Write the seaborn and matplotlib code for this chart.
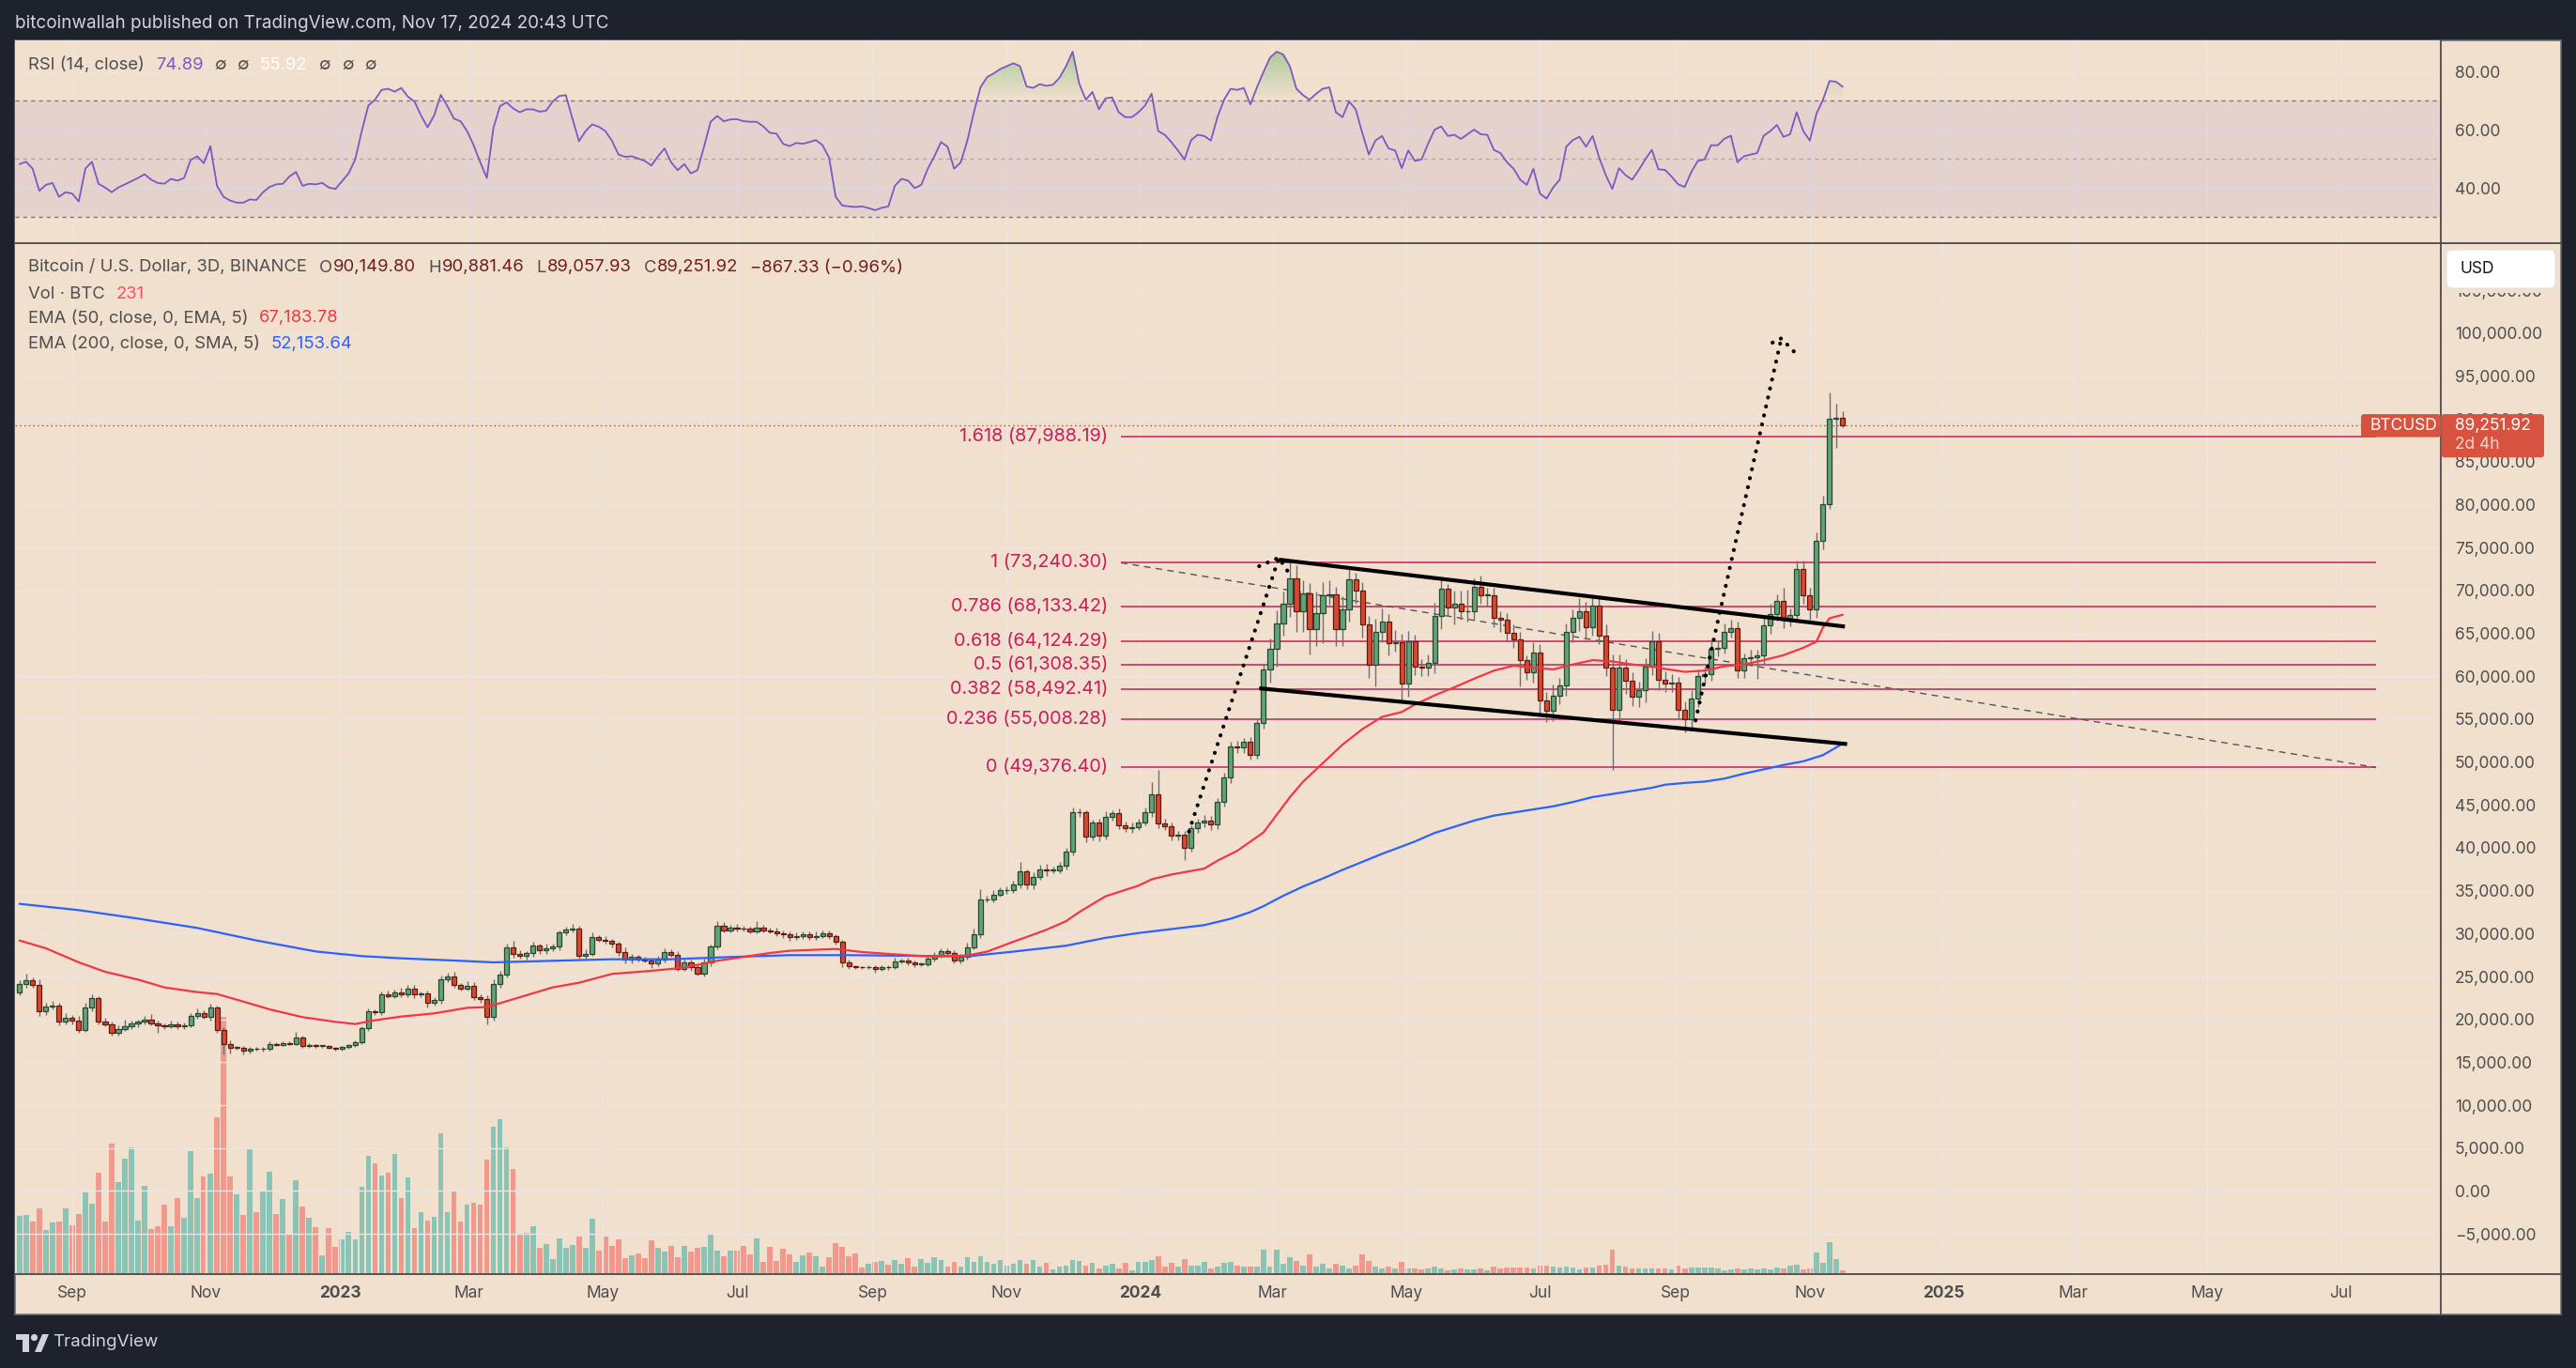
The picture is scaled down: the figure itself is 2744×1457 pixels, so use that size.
import numpy as np
import pandas as pd
import matplotlib
matplotlib.use("Agg")
import matplotlib.pyplot as plt
import matplotlib.dates as mdates
from matplotlib.patches import Rectangle, FancyBboxPatch, Polygon, Circle
from matplotlib.path import Path
from matplotlib.lines import Line2D
from matplotlib.transforms import IdentityTransform
import seaborn as sns

# ---------------------------------------------------------------- data
first_candle = "2022-08-08"
candle_step = "3D"
first_open_k = 23.18

close_k = [
    24.09, 24.53, 24.02, 20.92, 21.46, 21.65, 19.71, 20.15, 19.90, 18.80,
    21.35, 22.45, 19.78, 19.46, 18.47, 18.91, 19.16, 19.53, 19.71, 20.00,
    19.53, 19.27, 19.16, 19.42, 19.16, 19.35, 20.37, 20.73, 20.26, 21.35,
    18.73, 17.16, 16.68, 16.72, 16.32, 16.61, 16.54, 16.61, 17.16, 17.05,
    17.27, 17.16, 17.89, 16.90, 16.98, 16.90, 16.95, 16.72, 16.54, 16.79,
    16.98, 17.34, 18.98, 20.92, 20.81, 22.92, 22.74, 23.18, 22.92, 23.54,
    22.92, 23.00, 21.90, 22.27, 24.64, 25.00, 23.98, 23.62, 23.91, 22.63,
    22.38, 20.26, 24.09, 25.19, 28.36, 27.63, 27.38, 27.70, 28.58, 28.03,
    28.29, 28.47, 30.11, 30.48, 30.59, 27.38, 27.67, 29.56, 29.31, 29.13,
    28.83, 27.85, 26.94, 27.27, 27.01, 26.90, 26.54, 26.94, 27.85, 27.56,
    25.91, 26.65, 26.10, 25.37, 26.65, 28.47, 30.91, 30.40, 30.66, 30.59,
    30.55, 30.29, 30.73, 30.40, 30.29, 30.04, 29.90, 29.56, 29.75, 29.93,
    29.56, 29.75, 30.04, 29.68, 29.02, 26.65, 26.17, 26.10, 26.06, 26.13,
    25.91, 26.08, 26.06, 26.75, 26.84, 26.66, 26.43, 26.45, 27.07, 27.44,
    28.00, 27.76, 26.84, 27.30, 28.45, 29.97, 33.93, 33.98, 34.58, 35.04,
    35.10, 35.69, 37.21, 35.69, 36.65, 37.53, 37.35, 37.40, 37.90, 39.51,
    44.12, 44.20, 41.26, 43.01, 41.40, 43.66, 44.03, 42.60, 42.28, 42.46,
    43.01, 44.12, 46.19, 42.87, 42.55, 41.40, 41.50, 40.02, 42.28, 43.01,
    43.20, 42.73, 45.32, 48.17, 51.86, 51.67, 52.32, 50.85, 54.53, 60.75,
    63.18, 66.20, 68.43, 71.45, 67.63, 69.65, 65.55, 67.35, 69.50, 69.60,
    65.55, 67.85, 71.30, 69.94, 66.05, 61.31, 65.19, 66.41, 63.89, 63.95,
    59.15, 64.04, 61.16, 61.02, 61.52, 67.06, 70.22, 68.07, 68.50, 67.56,
    67.60, 70.44, 69.43, 69.50, 66.77, 66.63, 65.05, 64.33, 61.88, 60.44,
    62.82, 57.14, 55.99, 57.78, 58.93, 65.19, 66.77, 67.63, 65.76, 68.21,
    64.76, 61.02, 56.13, 61.02, 59.44, 57.57, 58.43, 61.16, 64.04, 59.58,
    59.15, 59.22, 56.13, 54.98, 57.42, 60.01, 60.30, 63.18, 63.32, 65.19,
    65.62, 60.66, 62.10, 62.24, 62.46, 65.98, 67.27, 68.79, 66.63, 67.13,
    72.52, 69.50, 67.85, 75.76, 80.08, 90.07, 90.1498, 89.25192,
]

upper_wick_k = [
    0.5, 0.8, 0.4, 0.6, 0.5, 0.5, 0.3, 0.6, 0.4, 0.5,
    0.6, 0.5, 0.3, 0.4, 0.3, 0.4, 0.8, 0.3, 0.3, 0.4,
    0.6, 0.3, 0.3, 0.4, 0.3, 0.3, 0.4, 0.5, 0.3, 0.5,
    0.3, 0.4, 0.4, 0.2, 0.2, 0.2, 0.2, 0.2, 0.3, 0.2,
    0.2, 0.2, 0.6, 0.2, 0.2, 0.1, 0.1, 0.1, 0.1, 0.1,
    0.1, 0.2, 0.2, 0.4, 0.3, 0.3, 0.4, 0.3, 0.5, 0.5,
    0.5, 0.3, 0.4, 0.3, 0.5, 0.4, 0.5, 0.3, 0.6, 0.4,
    0.3, 0.4, 0.6, 0.5, 0.5, 0.8, 0.4, 0.3, 0.5, 0.3,
    0.5, 0.4, 0.3, 0.3, 0.5, 0.3, 0.5, 0.6, 0.3, 0.4,
    0.2, 0.2, 0.5, 0.4, 0.3, 0.3, 0.2, 0.5, 0.4, 0.3,
    0.4, 0.3, 0.3, 0.2, 0.4, 0.3, 0.6, 0.4, 0.4, 0.5,
    0.3, 0.3, 0.7, 0.3, 0.3, 0.4, 0.3, 0.4, 0.4, 0.3,
    0.3, 0.5, 0.3, 0.3, 0.3, 0.3, 0.3, 0.2, 0.1, 0.2,
    0.2, 0.2, 0.2, 0.4, 0.2, 0.3, 0.2, 0.2, 0.3, 0.4,
    0.3, 0.3, 0.3, 0.3, 0.5, 0.6, 1.2, 0.4, 0.5, 0.4,
    0.4, 0.5, 1.2, 0.3, 0.5, 0.5, 0.6, 0.4, 0.5, 0.5,
    0.6, 0.4, 0.2, 0.3, 0.4, 0.6, 0.4, 0.6, 0.5, 0.5,
    0.4, 0.6, 1.5, 2.9, 0.5, 0.4, 0.5, 0.5, 0.4, 0.4,
    0.6, 0.5, 0.5, 0.6, 0.5, 0.6, 0.5, 0.6, 0.6, 0.7,
    1.2, 1.5, 1.5, 2.0, 1.5, 1.6, 1.2, 2.5, 1.5, 1.6,
    0.8, 1.5, 1.2, 0.8, 1.0, 1.0, 1.5, 1.5, 0.8, 1.5,
    1.0, 1.2, 0.8, 0.8, 1.0, 1.5, 1.2, 0.5, 1.5, 1.5,
    2.5, 1.0, 1.3, 0.8, 0.8, 0.8, 0.7, 1.0, 0.8, 0.6,
    1.2, 0.9, 1.0, 1.3, 0.9, 1.0, 1.0, 1.5, 1.0, 1.3,
    1.0, 1.3, 1.5, 1.5, 1.0, 1.0, 1.0, 1.0, 1.2, 1.0,
    1.0, 1.0, 0.7, 1.0, 1.0, 0.8, 0.8, 1.0, 0.9, 1.0,
    1.0, 0.8, 0.6, 0.9, 0.6, 0.8, 1.2, 0.8, 1.5, 0.8,
    1.0, 1.0, 0.8, 1.0, 1.0, 3.0, 1.63, 0.731,
]

lower_wick_k = [
    0.4, 0.4, 0.3, 0.5, 0.4, 0.3, 0.4, 0.3, 0.5, 0.4,
    0.3, 0.4, 0.4, 0.3, 0.4, 0.4, 0.3, 0.3, 0.4, 0.3,
    0.2, 0.8, 0.3, 0.2, 0.3, 0.3, 0.3, 0.3, 0.2, 0.4,
    0.3, 1.2, 0.6, 0.2, 0.4, 0.3, 0.2, 0.3, 0.3, 0.2,
    0.2, 0.2, 0.2, 0.2, 0.2, 0.2, 0.2, 0.2, 0.2, 0.2,
    0.2, 0.2, 0.2, 0.3, 0.3, 0.3, 0.3, 0.3, 0.3, 0.3,
    0.4, 0.3, 0.5, 0.3, 0.4, 0.3, 0.3, 0.3, 0.3, 0.4,
    0.4, 0.8, 0.4, 0.4, 0.3, 0.4, 0.3, 0.4, 0.4, 0.4,
    0.4, 0.3, 0.4, 0.3, 0.3, 0.3, 0.3, 0.3, 0.3, 0.3,
    0.4, 0.4, 0.4, 0.4, 0.3, 0.3, 0.5, 0.3, 0.3, 0.3,
    0.3, 0.3, 0.4, 0.3, 0.4, 0.4, 0.3, 0.3, 0.3, 0.3,
    0.3, 0.3, 0.3, 0.3, 0.3, 0.3, 0.4, 0.4, 0.3, 0.4,
    0.3, 0.3, 0.3, 0.3, 0.3, 0.6, 0.3, 0.2, 0.2, 0.2,
    0.5, 0.2, 0.3, 0.2, 0.2, 0.3, 0.3, 0.2, 0.2, 0.3,
    0.3, 0.2, 0.3, 0.3, 0.3, 0.3, 0.5, 0.3, 0.3, 0.3,
    0.4, 0.4, 0.4, 0.5, 0.5, 0.4, 0.6, 0.3, 0.4, 0.4,
    0.4, 0.5, 0.6, 0.4, 0.6, 0.4, 0.5, 0.4, 0.4, 0.5,
    0.4, 0.4, 0.5, 0.6, 0.5, 0.5, 0.5, 1.4, 0.5, 0.5,
    0.6, 0.6, 0.5, 0.5, 0.6, 0.6, 0.6, 0.6, 0.4, 0.6,
    1.5, 2.0, 1.5, 1.5, 2.5, 2.5, 3.0, 2.0, 3.5, 1.2,
    2.0, 2.0, 1.5, 1.5, 1.5, 1.5, 2.5, 1.2, 1.5, 1.0,
    2.0, 1.5, 1.0, 1.0, 1.0, 1.2, 1.5, 1.0, 2.0, 1.0,
    1.2, 1.0, 1.0, 1.2, 1.0, 1.5, 1.0, 1.0, 3.0, 0.8,
    1.2, 1.5, 1.3, 1.2, 1.0, 1.2, 1.2, 1.5, 1.5, 1.0,
    1.0, 1.0, 7.0, 1.5, 1.5, 1.0, 1.2, 1.5, 1.0, 1.2,
    1.0, 1.0, 1.0, 1.5, 1.0, 1.0, 0.8, 0.8, 0.8, 0.7,
    0.7, 0.8, 0.8, 0.8, 2.5, 1.0, 1.0, 0.8, 1.0, 0.8,
    0.8, 1.0, 1.2, 1.0, 1.0, 0.6, 3.48, 0.194,
]

volume = [
    62, 63, 56, 70, 47, 55, 56, 70, 52, 64,
    87, 75, 108, 56, 139, 98, 123, 135, 57, 94,
    48, 51, 74, 51, 81, 60, 131, 81, 104, 107,
    167, 274, 104, 85, 63, 133, 66, 88, 109, 64,
    80, 42, 100, 72, 60, 50, 20, 49, 29, 37,
    45, 37, 93, 126, 118, 105, 108, 128, 81, 103,
    49, 66, 57, 61, 150, 66, 88, 56, 74, 76,
    74, 122, 157, 165, 135, 112, 43, 44, 51, 28,
    32, 16, 38, 28, 31, 40, 28, 59, 25, 40,
    30, 37, 17, 20, 22, 17, 36, 28, 24, 30,
    18, 30, 24, 28, 29, 43, 25, 19, 25, 25,
    30, 21, 38, 13, 29, 14, 27, 21, 13, 20,
    23, 19, 8, 18, 33, 29, 19, 22, 7, 11,
    13, 14, 10,
    15, 11, 17, 8, 16, 12, 18, 15, 8, 13,
    8, 18, 13, 19, 13, 11, 15, 9, 11, 15,
    11, 15, 8, 12, 5, 8, 9, 15, 14, 9,
    12, 6, 9, 11, 6, 12, 4, 13, 13, 15,
    19, 8, 12, 8, 16, 9, 9, 13, 6, 8,
    12, 13, 9, 8, 8, 8,
    26, 8, 26, 11, 18, 14, 9, 21, 8, 11,
    6, 11, 9, 6, 9, 21, 14, 8, 6, 8,
    6, 13, 6, 6, 5, 6, 8, 6, 4, 5,
    6, 5, 5, 6, 4, 8, 6, 7, 7, 7,
    7, 6, 9, 9, 8, 7, 8, 7, 5, 7,
    7, 9, 10, 26, 9, 8, 6, 6, 6, 6,
    6, 6, 5, 9, 6, 7, 7, 7, 7, 6,
    4, 5, 6, 5, 6, 5, 6, 5, 7, 6,
    9, 10, 5, 6, 23, 12, 34, 16, 4,
]

rsi_values = [
    48.2, 49.0, 46.6, 39.0, 41.0, 41.7, 36.9, 38.5, 38.0, 35.3,
    46.6, 49.0, 41.4, 40.1, 38.5, 40.1, 41.2, 42.3, 43.4, 44.7,
    42.8, 41.7, 41.4, 43.1, 42.5, 43.4, 49.6, 50.9, 48.5, 54.4,
    40.7, 36.9, 35.6, 34.9, 34.9, 36.0, 35.8, 38.5, 40.3, 41.2,
    41.4, 43.9, 45.5, 40.7, 41.4, 41.2, 41.7, 40.1, 39.6, 42.3,
    45.0, 49.8, 59.6, 68.4, 70.4, 73.8, 74.2, 73.2, 74.5, 71.5,
    69.8, 65.0, 60.9, 65.0, 72.1, 68.2, 63.9, 63.0, 59.6, 54.7,
    48.8, 43.4, 60.7, 68.2, 69.5, 67.4, 66.1, 67.1, 67.1, 66.3,
    66.6, 69.8, 71.7, 72.0, 63.9, 56.1, 59.6, 61.9, 61.1, 59.6,
    56.3, 51.5, 50.7, 50.9, 50.1, 49.3, 47.7, 50.9, 53.6, 48.8,
    46.1, 48.2, 45.0, 46.1, 54.2, 62.8, 64.8, 63.0, 63.6, 63.7,
    63.0, 62.8, 62.8, 61.2, 59.0, 58.7, 55.2, 54.4, 55.5, 55.2,
    55.8, 56.5, 54.7, 50.4, 36.9, 33.9, 33.6, 33.4, 33.6, 33.0,
    32.3, 33.1, 33.6, 40.7, 43.1, 42.5, 39.9, 41.0, 46.6, 50.9,
    55.8, 54.2, 46.6, 48.8, 56.3, 66.1, 74.7, 78.2, 79.5, 81.0,
    82.0, 83.0, 82.0, 75.0, 74.5, 75.8, 75.2, 75.6, 78.0, 82.0,
    87.0, 76.0, 70.4, 73.1, 67.1, 70.9, 71.2, 66.1, 64.4, 64.4,
    66.1, 68.4, 72.5, 59.6, 58.3, 55.8, 52.9, 49.8, 56.5, 58.3,
    57.9, 56.3, 64.4, 70.4, 74.2, 73.8, 74.5, 68.8, 74.7, 80.0,
    85.0, 87.0, 86.0, 82.0, 74.2, 72.0, 70.4, 72.5, 74.2, 74.7,
    66.1, 64.4, 69.8, 67.1, 59.0, 51.5, 56.3, 57.9, 53.6, 52.9,
    46.8, 52.9, 49.3, 49.8, 55.2, 60.1, 61.2, 57.9, 58.3, 56.9,
    58.5, 60.1, 58.5, 58.3, 53.1, 52.0, 48.8, 46.6, 42.8, 41.0,
    46.6, 38.0, 36.3, 40.1, 42.8, 54.2, 56.5, 57.6, 54.2, 57.9,
    50.4, 44.4, 39.6, 46.8, 44.4, 42.8, 46.1, 49.8, 53.1, 46.4,
    46.2, 43.9, 41.2, 40.3, 45.5, 49.3, 49.8, 54.7, 54.7, 56.9,
    58.0, 48.8, 50.9, 51.5, 52.0, 58.0, 59.6, 61.7, 57.6, 58.5,
    66.1, 59.6, 56.3, 65.5, 70.4, 76.9, 76.6, 74.89,
]

ema50_index = [0, 4, 9, 13, 18, 22, 27, 30, 34, 38, 43, 48, 51, 54, 58, 63, 68, 71, 77, 81,
               85, 90, 96, 101, 106, 114, 117, 124, 128, 135, 138, 144, 147, 151, 156, 159, 161, 165, 170, 172,
               175, 180, 182, 185, 189, 191, 193, 195, 198, 201, 204, 207, 210, 212, 215, 218, 221, 224, 227, 230,
               233, 236, 239, 242, 245, 248, 250, 253, 256, 259, 262, 265, 268, 271, 273, 274, 275, 277]
ema50_k = [29.20, 28.29, 26.65, 25.55, 24.64, 23.73, 23.18, 22.96, 22.08, 21.17, 20.26, 19.71, 19.46, 19.90, 20.33, 20.70, 21.35, 21.43, 22.81, 23.73,
           24.27, 25.30, 25.66, 26.03, 26.83, 27.74, 28.00, 28.21, 27.85, 27.48, 27.35, 27.44, 27.90, 29.05, 30.44, 31.45, 32.51, 34.35, 35.59, 36.33,
           36.89, 37.58, 38.50, 39.65, 41.80, 43.85, 45.90, 47.70, 49.87, 52.03, 53.83, 55.27, 55.84, 56.70, 57.78, 58.72, 59.72, 60.66, 61.23, 61.02,
           60.80, 61.38, 61.88, 61.74, 61.38, 61.16, 60.87, 60.52, 60.66, 61.16, 61.38, 61.88, 62.46, 63.32, 64.04, 65.69, 66.77, 67.18]

ema200_index = [0, 9, 18, 27, 36, 45, 52, 58, 67, 72, 81, 90, 99, 108, 117, 126, 132, 144, 151, 159,
                165, 170, 175, 180, 184, 187, 189, 192, 195, 198, 201, 204, 207, 210, 212, 215, 218, 221, 224, 227,
                230, 233, 236, 239, 242, 245, 248, 250, 253, 256, 259, 262, 265, 268, 271, 274, 277]
ema200_k = [33.47, 32.74, 31.75, 30.66, 29.20, 27.92, 27.38, 27.12, 26.83, 26.65, 26.83, 27.01, 27.01, 27.27, 27.49, 27.49, 27.44, 27.35, 27.90, 28.59,
            29.51, 30.07, 30.53, 30.99, 31.73, 32.51, 33.20, 34.41, 35.49, 36.42, 37.43, 38.36, 39.30, 40.16, 40.74, 41.74, 42.46, 43.18, 43.76, 44.12,
            44.48, 44.84, 45.34, 45.92, 46.28, 46.64, 47.00, 47.36, 47.57, 47.72, 48.07, 48.65, 49.15, 49.66, 50.09, 50.81, 52.15]

fib_levels = [1.618, 1, 0.786, 0.618, 0.5, 0.382, 0.236, 0]
fib_prices = [87988.19, 73240.30, 68133.42, 64124.29, 61308.35, 58492.41, 55008.28, 49376.40]
fib_span_dates = ["2023-12-23", "2025-07-17"]

channel_upper_dates = ["2024-03-04", "2024-11-17"]
channel_upper_prices = [73600, 65800]
channel_lower_dates = ["2024-02-24", "2024-11-18"]
channel_lower_prices = [58600, 52100]
trend_dash_dates = ["2023-12-23", "2025-07-17"]
trend_dash_prices = [73240.30, 49376.40]

arrow1_dates = ["2024-01-23", "2024-03-04"]
arrow1_prices = [41900, 73830]
arrow1_head_dates = ["2024-02-24", "2024-03-04", "2024-03-09"]
arrow1_head_prices = [72840, 73830, 71860]
arrow2_dates = ["2024-09-09", "2024-10-19"]
arrow2_prices = [53800, 99400]
arrow2_head_dates = ["2024-10-15", "2024-10-19", "2024-10-25"]
arrow2_head_prices = [98900, 99400, 97800]

last_price = 89251.92
price_ticks = list(range(-5000, 105001, 5000))
rsi_ticks = [40, 60, 80]
rsi_levels = [70, 50, 30]
time_tick_dates = ["2022-09-01", "2022-11-01", "2023-01-01", "2023-03-01", "2023-05-01", "2023-07-01",
                   "2023-09-01", "2023-11-01", "2024-01-01", "2024-03-01", "2024-05-01", "2024-07-01",
                   "2024-09-01", "2024-11-01", "2025-01-01", "2025-03-01", "2025-05-01", "2025-07-01"]
time_tick_labels = ["Sep", "Nov", "2023", "Mar", "May", "Jul", "Sep", "Nov", "2024",
                    "Mar", "May", "Jul", "Sep", "Nov", "2025", "Mar", "May", "Jul"]

# ---------------------------------------------------------------- style
W, H = 2744, 1457
PEACH = "#f2e0cf"
DARK = "#1e222d"
GRID = "#ece5e3"
GRAY_TXT = "#4e4e4e"
GREEN, GREEN_E = "#62a27a", "#26482f"
RED, RED_E = "#d8482f", "#5c1b10"
WICK = "#6e6e6e"
VGREEN, VRED = "#8bc4b4", "#f0998c"
EMA50_C, EMA200_C = "#f23645", "#2962ff"
FIB = "#c81e5a"
RSI_C = "#7e57c2"
MAROON = "#6e1d1d"
FS = 12.5
FS_LEG = 13.3
FS_FIB = 14.3

sns.set_theme(style="white")
plt.rcParams["font.family"] = ["Inter", "DejaVu Sans"]

fig = plt.figure(figsize=(W / 100, H / 100), dpi=100, facecolor=DARK)
ID = IdentityTransform()


def rect(x0, y0, x1, y1):
    return [x0 / W, 1 - y1 / H, (x1 - x0) / W, (y1 - y0) / H]


# panel background
fig.add_artist(Rectangle((16, H - 1400), 2728 - 16, 1400 - 43, transform=ID,
                         fc=PEACH, ec="#6a6d78", lw=1.2, zorder=-5))

ax_rsi = fig.add_axes(rect(16, 43, 2600, 259))
ax_main = fig.add_axes(rect(16, 259, 2600, 1357))
ax_vol = ax_main.twinx()
ax_main.set_zorder(ax_vol.get_zorder() + 1)
ax_main.patch.set_visible(False)
ax_vol.patch.set_visible(True)
ax_vol.set_facecolor(PEACH)
ax_rsi.set_facecolor(PEACH)

# ---------------------------------------------------------------- x data
dates = pd.date_range(first_candle, periods=len(close_k), freq=candle_step)
x = mdates.date2num(dates.to_pydatetime())
c = np.array(close_k) * 1000
o = np.concatenate([[first_open_k * 1000], c[:-1]])
hi = np.maximum(o, c) + np.array(upper_wick_k) * 1000
lo = np.minimum(o, c) - np.array(lower_wick_k) * 1000
up = c >= o

xlim = (mdates.date2num(pd.Timestamp("2022-08-05 22:48")), mdates.date2num(pd.Timestamp("2025-08-15 14:24")))
tick_x = mdates.date2num(pd.to_datetime(time_tick_dates).to_pydatetime())


def dn(lst):
    return mdates.date2num(pd.to_datetime(lst).to_pydatetime())


# ---------------------------------------------------------------- volume
ax_vol.bar(x, volume, width=2.45, color=[VGREEN if u else VRED for u in up], linewidth=0, zorder=1)
ax_vol.set_ylim(0, max(volume) * 4.0)
ax_vol.yaxis.set_visible(False)
ax_vol.grid(False)

# ---------------------------------------------------------------- main price
ax_main.grid(True, color=GRID, lw=1.0)
ax_main.set_axisbelow(True)

fx0, fx1 = dn(fib_span_dates)
ax_main.hlines(fib_prices, fx0, fx1, colors=FIB, lw=1.1, zorder=2)
for lvl, p in zip(fib_levels, fib_prices):
    ax_main.annotate(f"{lvl:g} ({p:,.2f})", xy=(fx0, p), xytext=(-10, 0), textcoords="offset points",
                     ha="right", va="center", color=FIB, fontsize=FS_FIB, zorder=3)

ax_main.plot(dn(trend_dash_dates), trend_dash_prices, color="#555555", lw=1.0, ls=(0, (5, 4)), zorder=2)
ax_main.axhline(last_price, color="#d9503f", lw=1.0, ls=(0, (1.2, 2.2)), zorder=2)

ax_main.vlines(x, lo, hi, color=WICK, lw=1.0, zorder=3)
body = np.maximum(np.abs(c - o), 80)
ax_main.bar(x, body, bottom=np.minimum(o, c), width=2.2,
            color=[GREEN if u else RED for u in up],
            edgecolor=[GREEN_E if u else RED_E for u in up], linewidth=0.9, zorder=4)

sns.lineplot(x=x[np.array(ema200_index)], y=np.array(ema200_k) * 1000, ax=ax_main,
             color=EMA200_C, linewidth=1.6, zorder=5)
sns.lineplot(x=x[np.array(ema50_index)], y=np.array(ema50_k) * 1000, ax=ax_main,
             color=EMA50_C, linewidth=1.6, zorder=5)

ax_main.plot(dn(channel_upper_dates), channel_upper_prices, color="black", lw=3.0, zorder=6, solid_capstyle="butt")
ax_main.plot(dn(channel_lower_dates), channel_lower_prices, color="black", lw=3.0, zorder=6, solid_capstyle="butt")

dot = dict(color="black", lw=3.0, ls=(0, (0.05, 2.3)), dash_capstyle="round", zorder=7)
for sd, sp, hd, hp in [(arrow1_dates, arrow1_prices, arrow1_head_dates, arrow1_head_prices),
                       (arrow2_dates, arrow2_prices, arrow2_head_dates, arrow2_head_prices)]:
    ax_main.plot(dn(sd), sp, **dot)
    ax_main.plot(dn(hd), hp, **dot)

ax_main.set_xlim(xlim)
ax_main.set_ylim(-9699, 110498)
ax_main.yaxis.tick_right()
ax_main.set_yticks(price_ticks)
ax_main.set_yticklabels([f"{v:,.2f}".replace("-", "\u2212") for v in price_ticks])
ax_main.tick_params(axis="y", length=0, pad=10.8, labelsize=FS, labelcolor=GRAY_TXT)
ax_main.set_xticks(tick_x)
ax_main.set_xticklabels(time_tick_labels)
for lab in ax_main.get_xticklabels():
    if lab.get_text().isdigit():
        lab.set_fontweight("bold")
ax_main.tick_params(axis="x", length=0, pad=9, labelsize=12.5, labelcolor=GRAY_TXT)
ax_main.set_xlabel("")
ax_main.set_ylabel("")
for ax in (ax_main, ax_vol, ax_rsi):
    for s in ax.spines.values():
        s.set_visible(False)

# ---------------------------------------------------------------- RSI
rs = np.array(rsi_values)
ax_rsi.grid(True, color=GRID, lw=1.0)
ax_rsi.set_axisbelow(True)
ax_rsi.axhspan(30, 70, color=RSI_C, alpha=0.1, lw=0, zorder=1)
ax_rsi.axhline(rsi_levels[0], color="#787b86", lw=1.0, ls=(0, (3, 3)), zorder=2)
ax_rsi.axhline(rsi_levels[1], color="#9a9ca5", lw=1.0, ls=(0, (3, 3)), alpha=0.8, zorder=2)
ax_rsi.axhline(rsi_levels[2], color="#787b86", lw=1.0, ls=(0, (3, 3)), zorder=2)
coll = ax_rsi.fill_between(x, rs, 70, where=rs > 70, interpolate=True, facecolor="none", edgecolor="none")
paths = coll.get_paths()
if len(paths):
    comp = Path.make_compound_path(*paths)
    grad = np.zeros((256, 1, 4))
    grad[..., 0], grad[..., 1], grad[..., 2] = 76 / 255, 175 / 255, 80 / 255
    grad[:, 0, 3] = np.linspace(0.0, 0.5, 256)
    im = ax_rsi.imshow(grad, extent=[x[0], x[-1], 70, 90], origin="lower", aspect="auto",
                       interpolation="bilinear", zorder=2)
    im.set_clip_path(comp, transform=ax_rsi.transData)
sns.lineplot(x=x, y=rs, ax=ax_rsi, color=RSI_C, linewidth=1.3, zorder=3)
ax_rsi.set_xlim(xlim)
ax_rsi.set_ylim(20.9, 90.9)
ax_rsi.set_xticks(tick_x)
ax_rsi.tick_params(axis="x", labelbottom=False, length=0)
ax_rsi.yaxis.tick_right()
ax_rsi.set_yticks(rsi_ticks)
ax_rsi.set_yticklabels([f"{v:.2f}" for v in rsi_ticks])
ax_rsi.tick_params(axis="y", length=0, pad=10.8, labelsize=FS, labelcolor=GRAY_TXT)
ax_rsi.set_xlabel("")
ax_rsi.set_ylabel("")

# ---------------------------------------------------------------- separators
for (x0, y0, x1, y1) in [(16, 259, 2728, 259), (16, 1357, 2728, 1357), (2600, 43, 2600, 1400)]:
    fig.add_artist(Line2D([x0, x1], [H - y0, H - y1], transform=ID, color="#4a4a4a", lw=1.3, zorder=10))

# ---------------------------------------------------------------- texts
fig.text(16 / W, 1 - 25 / H, "bitcoinwallah published on TradingView.com, Nov 17, 2024 20:43 UTC",
         color="#d1d4dc", fontsize=13.6, va="center", ha="left")


def chain(y_px, pieces, x_px=30, fs=FS_LEG):
    prev = None
    for s, col, gap in pieces:
        if prev is None:
            prev = ax_main.annotate(s, xy=(x_px, H - y_px), xycoords="figure pixels", color=col, fontsize=fs,
                                    ha="left", va="center", annotation_clip=False, zorder=20)
        else:
            prev = ax_main.annotate(s, xy=(1, 0.5), xycoords=prev, xytext=(gap, 0), textcoords="offset points",
                                    color=col, fontsize=fs, ha="left", va="center", annotation_clip=False, zorder=20)


G = 8.5
chain(69, [("RSI (14, close)", GRAY_TXT, 0), ("74.89", RSI_C, G), ("\u2205", GRAY_TXT, G), ("\u2205", GRAY_TXT, G),
           ("55.92", "white", G), ("\u2205", GRAY_TXT, G), ("\u2205", GRAY_TXT, G), ("\u2205", GRAY_TXT, G)])
chain(285, [("Bitcoin / U.S. Dollar, 3D, BINANCE", GRAY_TXT, 0),
            ("O", GRAY_TXT, G + 1), ("90,149.80", MAROON, 0.5),
            ("H", GRAY_TXT, G + 1), ("90,881.46", MAROON, 0.5),
            ("L", GRAY_TXT, G + 1), ("89,057.93", MAROON, 0.5),
            ("C", GRAY_TXT, G + 1), ("89,251.92", MAROON, 0.5),
            ("\u2212867.33 (\u22120.96%)", MAROON, G + 1)])
chain(313, [("Vol \u00b7 BTC", GRAY_TXT, 0), ("231", "#f7525f", G)])
chain(339, [("EMA (50, close, 0, EMA, 5)", GRAY_TXT, 0), ("67,183.78", EMA50_C, G)])
chain(366, [("EMA (200, close, 0, SMA, 5)", GRAY_TXT, 0), ("52,153.64", EMA200_C, G)])


def box(x0, y0, x1, y1, fc, r=3, ec="none", lw=0, z=30):
    fig.add_artist(FancyBboxPatch((x0, H - y1), x1 - x0, y1 - y0, boxstyle=f"round,pad=0,rounding_size={r}",
                                  fc=fc, ec=ec, lw=lw, transform=ID, zorder=z))


def ftxt(xp, yp, s, col, fs=FS, ha="left", **kw):
    fig.text(xp / W, 1 - yp / H, s, color=col, fontsize=fs, ha=ha, va="center", zorder=31, **kw)


# USD box (with a peach margin that hides most of the label beneath it)
box(2602, 261, 2726, 312, PEACH, r=0, z=29)
box(2606, 266, 2722, 307, "white", r=6, ec="#e3e3e3", lw=1)
ftxt(2621, 286.5, "USD", "#131722")

# last price boxes
yc = H - ax_main.transData.transform((x[-1], last_price))[1]
box(2600.5, yc - 12, 2710, yc + 34, "#d8533f", r=3)
box(2515, yc - 12, 2600, yc + 12.5, "#d8533f", r=3)
ftxt(2615, yc, "89,251.92", "white")
ftxt(2615, yc + 20.5, "2d 4h", "#f9d3cb")
ftxt(2524, yc, "BTCUSD", "white")

# TradingView logo
logo_c = "#d1d4dc"
fig.add_artist(Rectangle((17, H - 1427), 14, 6, transform=ID, fc=logo_c, ec="none", zorder=30))
fig.add_artist(Rectangle((24, H - 1440), 7, 19, transform=ID, fc=logo_c, ec="none", zorder=30))
fig.add_artist(Circle((36.5, H - 1424.5), 3.6, transform=ID, fc=logo_c, ec="none", zorder=30))
fig.add_artist(Polygon([(37, H - 1440), (44, H - 1440), (52, H - 1421), (45, H - 1421)], closed=True,
                       transform=ID, fc=logo_c, ec="none", zorder=30))
ftxt(56, 1430, "TradingView", logo_c, fs=13.5)

fig.savefig("out.png", dpi=100, facecolor=DARK)
